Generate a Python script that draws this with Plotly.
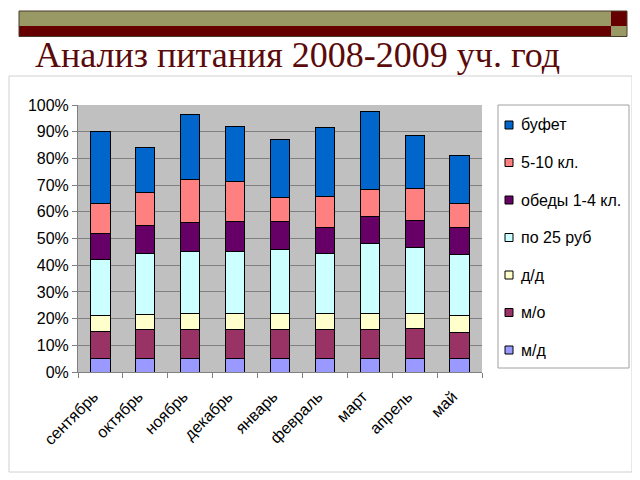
import plotly.graph_objects as go

months = ["сентябрь", "октябрь", "ноябрь", "декабрь", "январь",
          "февраль", "март", "апрель", "май"]

# segment sizes in %, bottom to top
md = [5, 5, 5, 5, 5, 5, 5, 5, 5]
mo = [10, 11, 11, 11, 11, 11, 11, 11.25, 9.75]
dd = [6, 5.5, 6, 6, 6, 6, 6, 5.75, 6.25]
po25 = [21, 23, 23, 23.3, 24, 22.5, 26, 24.5, 22.9]
obedy = [10, 10.4, 11, 11, 10.4, 9.5, 10.4, 10.4, 10.1]
kl510 = [11, 12.2, 16.25, 15, 9.1, 11.9, 10.1, 11.7, 9]
bufet = [27, 17, 24.25, 20.6, 21.75, 25.85, 28.9, 20.15, 18]

series = [
    ("м/д", md, "#9999ff"),
    ("м/о", mo, "#993366"),
    ("д/д", dd, "#ffffcc"),
    ("по 25 руб", po25, "#ccffff"),
    ("обеды 1-4 кл.", obedy, "#660066"),
    ("5-10 кл.", kl510, "#ff8080"),
    ("буфет", bufet, "#0066cc"),
]

# page body has an 8px margin, figure is drawn inside it
OFF = 8
W, H = 640 - OFF, 480 - OFF
# plot area in page pixels
L, R, T, B = 78, 482, 105, 372


def px(x):
    return (x - L) / (R - L)


def py(y):
    return (B - y) / (B - T)


fig = go.Figure()
for name, vals, col in series:
    fig.add_trace(go.Bar(x=months, y=vals, name=name, showlegend=False,
                         marker=dict(color=col, line=dict(color="black", width=1))))

shapes = [
    # outer chart frame
    dict(type="rect", xref="paper", yref="paper", x0=px(9), x1=px(632), y0=py(472), y1=py(76),
         line=dict(color="#d0d0d0", width=1), layer="below"),
    # banner
    dict(type="rect", xref="paper", yref="paper", x0=px(19), x1=px(611), y0=py(26), y1=py(11),
         fillcolor="#999966", line=dict(width=0)),
    dict(type="rect", xref="paper", yref="paper", x0=px(19), x1=px(611), y0=py(36.5), y1=py(26),
         fillcolor="#660000", line=dict(width=0)),
    dict(type="rect", xref="paper", yref="paper", x0=px(611), x1=px(627), y0=py(26), y1=py(11),
         fillcolor="#660000", line=dict(width=0)),
    dict(type="rect", xref="paper", yref="paper", x0=px(611), x1=px(627), y0=py(36.5), y1=py(26),
         fillcolor="#999966", line=dict(width=0)),
    dict(type="rect", xref="paper", yref="paper", x0=px(19), x1=px(627), y0=py(36.5), y1=py(11),
         line=dict(color="#4a3a2a", width=1)),
    # legend box
    dict(type="rect", xref="paper", yref="paper", x0=px(498), x1=px(629), y0=py(368), y1=py(105),
         fillcolor="white", line=dict(color="#a0a0a0", width=1)),
]

annotations = [dict(text="Анализ питания 2008-2009 уч. год", xref="paper", yref="paper",
                    x=px(33), y=py(55), xanchor="left", yanchor="middle", showarrow=False,
                    font=dict(family="Liberation Serif, Times New Roman", size=36, color="#5a0a0a"))]

# legend entries, top to bottom (reverse of stacking order)
for k, (name, vals, col) in enumerate(reversed(series)):
    yc = 125 + 37.5 * k
    shapes.append(dict(type="rect", xref="paper", yref="paper",
                       x0=px(505), x1=px(513), y0=py(yc + 4), y1=py(yc - 4),
                       fillcolor=col, line=dict(color="black", width=1)))
    annotations.append(dict(text=name, xref="paper", yref="paper", x=px(519), y=py(yc),
                            xanchor="left", yanchor="middle", showarrow=False,
                            font=dict(size=16)))

fig.update_layout(
    width=W, height=H,
    barmode="stack", bargap=0.57,
    margin=dict(l=L - OFF, r=W - (R - OFF), t=T - OFF, b=H - (B - OFF), autoexpand=False),
    paper_bgcolor="white", plot_bgcolor="#c0c0c0",
    font=dict(family="Liberation Sans, Arial", size=15, color="black"),
    shapes=shapes,
    annotations=annotations,
    showlegend=False,
)
fig.update_xaxes(tickangle=-45, tickson="boundaries", ticks="outside", ticklen=5,
                 tickcolor="#808080", showline=True, linecolor="#808080",
                 tickfont=dict(size=16), ticklabelshift=-7, ticklabelstandoff=8)
fig.update_yaxes(range=[0, 100], dtick=10, ticksuffix="%", ticks="outside", ticklen=5,
                 tickcolor="#808080", showline=True, linecolor="#808080",
                 gridcolor="#808080", gridwidth=1, zeroline=False, tickfont=dict(size=16))

fig.write_html("out.html")
